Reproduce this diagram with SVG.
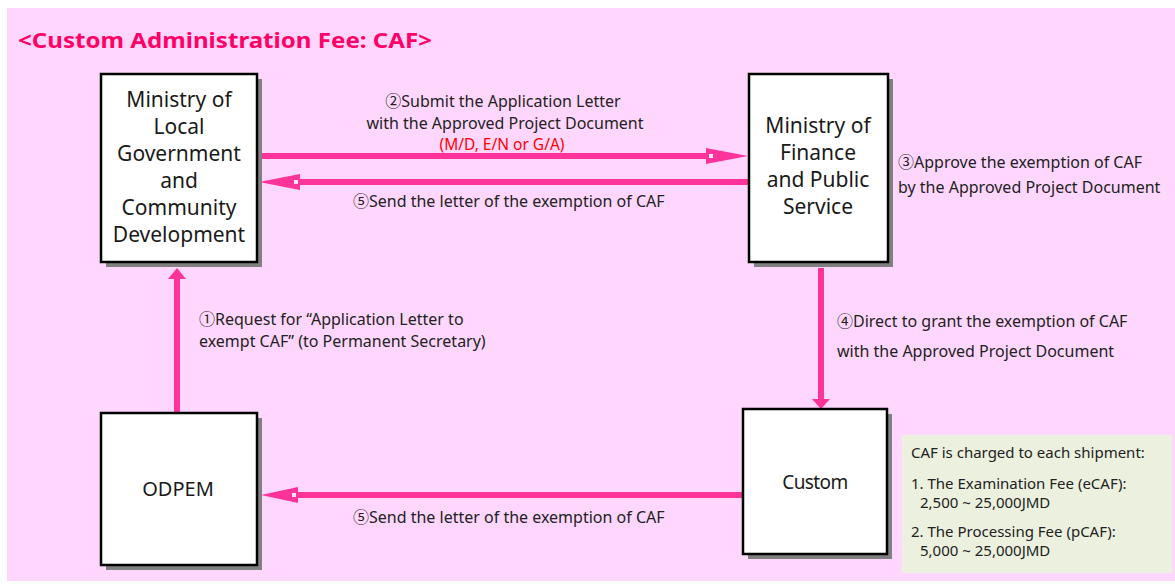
<svg xmlns="http://www.w3.org/2000/svg" width="1175" height="586" viewBox="0 0 1175 586">
<style>
.box{fill:#ffffff;stroke:#000000;stroke-width:2.5}
.shadow{fill:#808080}
.nt{font-family:"Noto Sans","Noto Sans CJK KR",sans-serif;font-size:21px;fill:#1a1a1a;text-anchor:middle}
.lb{font-family:"Noto Sans","Noto Sans CJK KR",sans-serif;font-size:16px;fill:#222222}
.ib{font-family:"Noto Sans","Noto Sans CJK KR",sans-serif;font-size:15px;fill:#222222}
.ln{stroke:#ff3399;stroke-width:6;fill:none}
.hd{fill:#ff3399}
.sq{fill:#ffe6f7}
</style>
<rect x="7" y="8" width="1168" height="573" fill="#ffd7fe"/>
<text x="18" y="48" font-family="'Noto Sans','Noto Sans CJK KR',sans-serif" font-size="22" font-weight="bold" fill="#ff0066" textLength="414" lengthAdjust="spacingAndGlyphs">&lt;Custom Administration Fee: CAF&gt;</text>

<g id="connectors">
  <line class="ln" x1="262" y1="156" x2="710" y2="156"/>
  <polygon class="hd" points="706,148 748,156 706,164"/>
  <rect class="sq" x="709" y="154" width="4" height="4"/>

  <line class="ln" x1="748" y1="182" x2="298" y2="182"/>
  <polygon class="hd" points="300,174 259,182 300,190"/>
  <rect class="sq" x="294" y="180" width="4" height="4"/>

  <line class="ln" x1="743" y1="495" x2="296" y2="495"/>
  <polygon class="hd" points="298,487 261,495 298,503"/>
  <rect class="sq" x="292" y="493" width="4" height="4"/>

  <line class="ln" x1="177" y1="413" x2="177" y2="277"/>
  <polygon class="hd" points="168,279 177,268 186,279"/>

  <line class="ln" x1="821" y1="268" x2="821" y2="401"/>
  <polygon class="hd" points="812,399 821,409 830,399"/>

  <text class="lb" x="503" y="107" text-anchor="middle">②Submit the Application Letter</text>
  <text class="lb" x="505" y="129" text-anchor="middle">with the Approved Project Document</text>
  <text class="lb" x="502" y="150" text-anchor="middle" style="fill:#ff0000;font-size:15.5px">(M/D, E/N or G/A)</text>
  <text class="lb" x="353" y="207">⑤Send the letter of the exemption of CAF</text>
  <text class="lb" x="898" y="168">③Approve the exemption of CAF</text>
  <text class="lb" x="898" y="193">by the Approved Project Document</text>
  <text class="lb" x="199" y="325">①Request for “Application Letter to</text>
  <text class="lb" x="199" y="347">exempt CAF” (to Permanent Secretary)</text>
  <text class="lb" x="837" y="327">④Direct to grant the exemption of CAF</text>
  <text class="lb" x="837" y="357">with the Approved Project Document</text>
  <text class="lb" x="353" y="523">⑤Send the letter of the exemption of CAF</text>
</g>

<g id="molgcd">
  <rect class="shadow" x="106" y="79" width="156" height="188"/>
  <rect class="box" x="101" y="74" width="156" height="188"/>
  <text class="nt" x="179" y="107">Ministry of</text>
  <text class="nt" x="179" y="134">Local</text>
  <text class="nt" x="179" y="161">Government</text>
  <text class="nt" x="179" y="188">and</text>
  <text class="nt" x="179" y="215">Community</text>
  <text class="nt" x="179" y="242">Development</text>
</g>

<g id="mofps">
  <rect class="shadow" x="754" y="79" width="139" height="188"/>
  <rect class="box" x="749" y="74" width="139" height="188"/>
  <text class="nt" x="818" y="133">Ministry of</text>
  <text class="nt" x="818" y="160">Finance</text>
  <text class="nt" x="818" y="187">and Public</text>
  <text class="nt" x="818" y="214">Service</text>
</g>

<g id="odpem">
  <rect class="shadow" x="106" y="418" width="156" height="152"/>
  <rect class="box" x="101" y="413" width="156" height="152"/>
  <text class="nt" x="178" y="496" style="font-size:20px">ODPEM</text>
</g>

<g id="custom">
  <rect class="shadow" x="748" y="414" width="144" height="145"/>
  <rect class="box" x="743" y="409" width="144" height="145"/>
  <text class="nt" x="815" y="489" style="font-size:19px;letter-spacing:-0.6px">Custom</text>
</g>

<g id="info">
  <rect x="902" y="435" width="270" height="138" fill="#ebf1de"/>
  <text class="ib" x="911" y="458">CAF is charged to each shipment:</text>
  <text class="ib" x="911" y="489">1. The Examination Fee (eCAF):</text>
  <text class="ib" x="920" y="508">2,500 ~ 25,000JMD</text>
  <text class="ib" x="911" y="537">2. The Processing Fee (pCAF):</text>
  <text class="ib" x="920" y="556">5,000 ~ 25,000JMD</text>
</g>
</svg>
